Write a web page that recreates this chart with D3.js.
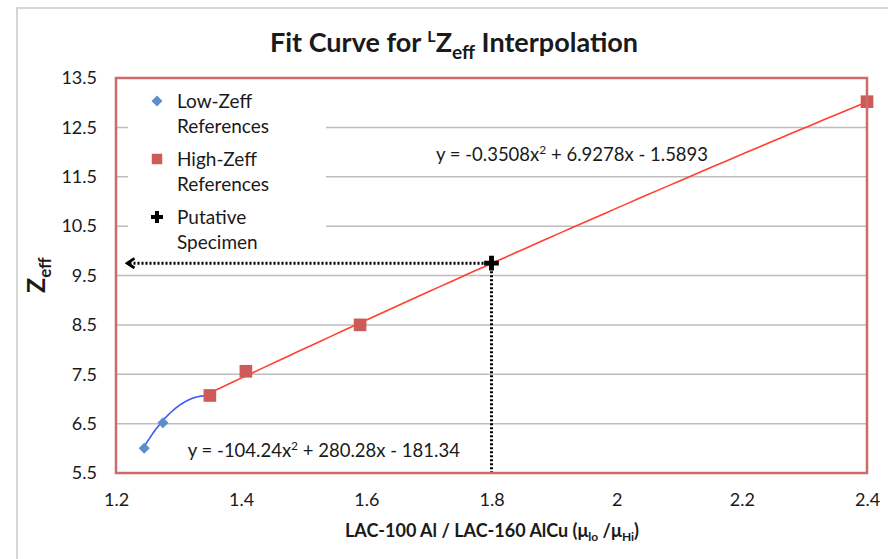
<!DOCTYPE html>
<html>
<head>
<meta charset="utf-8">
<script src="https://cdn.jsdelivr.net/npm/d3@7"></script>
<style>
  body { margin: 0; background: #fff; }
  text { font-family: Lato, "Open Sans", sans-serif; fill: #1a1a1a; }
</style>
</head>
<body>
<script>
// chart values
var lowX = [1.245, 1.275],
    lowY = [6.0, 6.52];
var highX = [1.35, 1.4075, 1.59, 2.4],
    highY = [7.07, 7.56, 8.5, 13.02];
var specimenX = [1.8],
    specimenY = [9.75];
var arrowToX = 1.218;

// trendline coefficients as printed on the chart (a, b, c)
var lowFit = [-104.24, 280.28, -181.34],
    lowFitRange = [1.245, 1.35];
var highFit = [-0.3508, 6.9278, -1.5893],
    highFitRange = [1.35, 2.4];

var xTicks = [1.2, 1.4, 1.6, 1.8, 2, 2.2, 2.4];
var yTicks = [5.5, 6.5, 7.5, 8.5, 9.5, 10.5, 11.5, 12.5, 13.5];

// attributes of the canvas area
var margin = {top: 78, right: 21, bottom: 86, left: 116},
    width = 888 - margin.left - margin.right,
    height = 559 - margin.top - margin.bottom;

var svg = d3.select("body").append("svg")
    .attr("width", 888)
    .attr("height", 559);

// outer chart frame
svg.append("rect")
    .attr("x", 17).attr("y", 8)
    .attr("width", 900).attr("height", 600)
    .attr("fill", "none")
    .attr("stroke", "#c9c9c9")
    .attr("stroke-width", 1.5);

// title
var title = svg.append("text")
    .attr("x", 454).attr("y", 52)
    .style("text-anchor", "middle")
    .style("font-size", "27px")
    .style("font-weight", "bold");
title.append("tspan").text("Fit Curve for ");
title.append("tspan").attr("dy", -10).style("font-size", "16px").text("L");
title.append("tspan").attr("dy", 10).text("Z");
title.append("tspan").attr("dy", 7).style("font-size", "19px").text("eff");
title.append("tspan").attr("dy", -7).text(" Interpolation");

var g = svg.append("g")
    .attr("transform", "translate(" + margin.left + "," + margin.top + ")");

var x = d3.scaleLinear().domain([1.2, 2.4]).range([0, width]);
var y = d3.scaleLinear().domain([5.5, 13.5]).range([height, 0]);

// gridlines
g.selectAll(".grid")
    .data(yTicks.slice(1, -1))
  .enter().append("line")
    .attr("class", "grid")
    .attr("x1", 0).attr("x2", width)
    .attr("y1", function(d) { return y(d); })
    .attr("y2", function(d) { return y(d); })
    .style("stroke", "#bdbdbd")
    .style("stroke-width", 1.5);

// axes (labels only, Excel style)
var xAxis = d3.axisBottom(x).tickValues(xTicks).tickSize(0).tickPadding(20)
    .tickFormat(function(d) { return d3.format("")(d); });
var yAxis = d3.axisLeft(y).tickValues(yTicks).tickSize(0).tickPadding(19)
    .tickFormat(d3.format(".1f"));

g.append("g")
    .attr("class", "x axis")
    .attr("transform", "translate(0," + height + ")")
    .call(xAxis);
g.append("g")
    .attr("class", "y axis")
    .call(yAxis);
g.selectAll(".axis .domain").remove();
g.selectAll(".axis text")
    .style("font-size", "18px")
    .style("font-family", "Lato, sans-serif")
    .attr("fill", "#222");

// legend box
var legend = g.append("g").attr("transform", "translate(12,7)");
legend.append("rect")
    .attr("width", 198).attr("height", 168)
    .attr("fill", "#fff");

var diamond = "M0,-5.5L5.5,0L0,5.5L-5.5,0Z";
var legendItems = [
  {lines: ["Low-Zeff", "References"], path: diamond, color: "#5b8fca"},
  {lines: ["High-Zeff", "References"], path: d3.symbol().type(d3.symbolSquare).size(110)(), color: "#cd5b57"},
  {lines: ["Putative", "Specimen"], path: d3.symbol().type(d3.symbolCross).size(80)(), color: "#000"}
];
legendItems.forEach(function(d, i) {
  var row = legend.append("g").attr("transform", "translate(0," + (16 + i * 58) + ")");
  row.append("path")
      .attr("transform", "translate(29,0)")
      .attr("d", d.path)
      .attr("fill", d.color);
  d.lines.forEach(function(t, j) {
    row.append("text")
        .attr("x", 49).attr("y", 7 + j * 25)
        .style("font-size", "19px")
        .text(t);
  });
});

// trendlines
function fitLine(coef, range) {
  var xs = d3.range(range[0], range[1] + 0.0001, (range[1] - range[0]) / 60);
  return d3.line()
    .x(function(v) { return x(v); })
    .y(function(v) { return y(coef[0] * v * v + coef[1] * v + coef[2]); })(xs);
}
g.append("path")
    .attr("d", fitLine(lowFit, lowFitRange))
    .attr("fill", "none")
    .attr("stroke", "#3a5cf0")
    .attr("stroke-width", 1.6);
g.append("path")
    .attr("d", fitLine(highFit, highFitRange))
    .attr("fill", "none")
    .attr("stroke", "#ff4030")
    .attr("stroke-width", 1.6);

// dotted guides from the specimen
g.append("defs").append("marker")
    .attr("id", "chev")
    .attr("viewBox", "0 0 10 10")
    .attr("refX", 8).attr("refY", 5)
    .attr("markerWidth", 4).attr("markerHeight", 4)
    .attr("orient", "auto")
    .append("path")
      .attr("d", "M2,1 L8,5 L2,9")
      .attr("fill", "none")
      .attr("stroke", "#000")
      .attr("stroke-width", 2.4);

g.append("line")
    .attr("x1", x(specimenX[0])).attr("y1", y(specimenY[0]))
    .attr("x2", x(arrowToX)).attr("y2", y(specimenY[0]))
    .attr("stroke", "#000")
    .attr("stroke-width", 3)
    .attr("stroke-dasharray", "2,2")
    .attr("marker-end", "url(#chev)");
g.append("line")
    .attr("x1", x(specimenX[0])).attr("y1", y(specimenY[0]))
    .attr("x2", x(specimenX[0])).attr("y2", height)
    .attr("stroke", "#000")
    .attr("stroke-width", 3)
    .attr("stroke-dasharray", "2,2");

// markers
g.selectAll(".low")
    .data(lowX)
  .enter().append("path")
    .attr("transform", function(d, i) { return "translate(" + x(d) + "," + y(lowY[i]) + ")"; })
    .attr("d", diamond)
    .attr("fill", "#5b8fca");
g.selectAll(".high")
    .data(highX)
  .enter().append("path")
    .attr("transform", function(d, i) { return "translate(" + x(d) + "," + y(highY[i]) + ")"; })
    .attr("d", d3.symbol().type(d3.symbolSquare).size(160)())
    .attr("fill", "#cd5b57");
g.selectAll(".spec")
    .data(specimenX)
  .enter().append("path")
    .attr("transform", function(d, i) { return "translate(" + x(d) + "," + y(specimenY[i]) + ")"; })
    .attr("d", d3.symbol().type(d3.symbolCross).size(120)())
    .attr("fill", "#000");

// equation labels
g.append("text")
    .attr("x", x(1.7) + 7).attr("y", y(11.82))
    .style("font-size", "18.5px")
    .html("y = -0.3508x<tspan dy='-7' font-size='12px'>2</tspan><tspan dy='7'> + 6.9278x - 1.5893</tspan>");
g.append("text")
    .attr("x", x(1.313) + 1).attr("y", y(5.83))
    .style("font-size", "18.5px")
    .html("y = -104.24x<tspan dy='-7' font-size='12px'>2</tspan><tspan dy='7'> + 280.28x - 181.34</tspan>");

// plot border
g.append("rect")
    .attr("width", width).attr("height", height)
    .attr("fill", "none")
    .attr("stroke", "#d06a68")
    .attr("stroke-width", 2.5);

// text label for the y axis
var yl = svg.append("text")
    .attr("transform", "translate(45,293) rotate(-90)")
    .style("font-size", "25px")
    .style("font-weight", "bold");
yl.append("tspan").text("Z");
yl.append("tspan").attr("dy", 6).style("font-size", "17px").text("eff");

// text label for the x axis
var xl = svg.append("text")
    .attr("x", 492).attr("y", 537)
    .style("text-anchor", "middle")
    .style("font-size", "18px")
    .style("font-weight", "bold");
xl.append("tspan").text("LAC-100 Al / LAC-160 AlCu (\u03bc");
xl.append("tspan").attr("dy", 4).style("font-size", "12px").text("lo");
xl.append("tspan").attr("dy", -4).text(" /\u03bc");
xl.append("tspan").attr("dy", 4).style("font-size", "12px").text("Hi");
xl.append("tspan").attr("dy", -4).text(")");
</script>
</body>
</html>
